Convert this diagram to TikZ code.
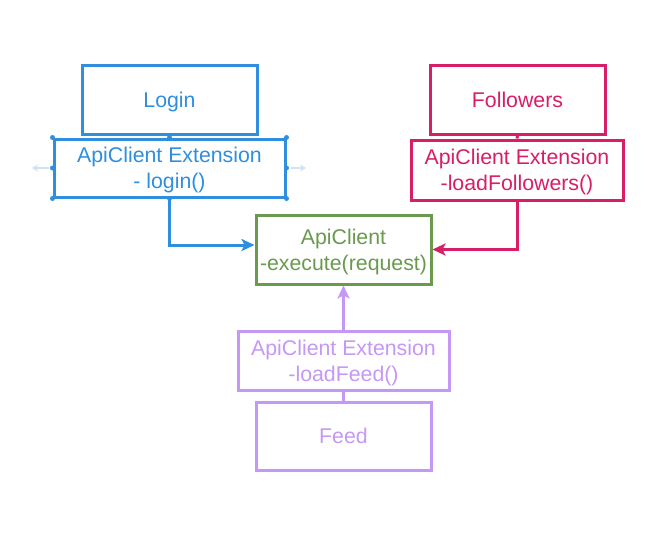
\documentclass[tikz,border=0pt]{standalone}
\usepackage{fontspec}
\setmainfont{Liberation Sans}
\usetikzlibrary{arrows.meta}
\definecolor{cblue}{RGB}{47,143,222}
\definecolor{cpink}{RGB}{216,30,102}
\definecolor{cgreen}{RGB}{106,154,78}
\definecolor{cpurple}{RGB}{198,152,245}
\definecolor{cfaint}{RGB}{205,228,248}
\begin{document}
\begin{tikzpicture}[x=1pt,y=-1pt,
  box/.style={draw, line width=3pt, inner sep=0pt, align=center, text depth=0pt,
    font=\fontsize{21.3}{26}\selectfont},
  conn/.style={line width=3pt},
  arr/.style={line width=3pt, -{Stealth[length=13pt,width=12pt,inset=3pt]}},
  handle/.style={fill=cblue, draw=none, circle, minimum size=5pt, inner sep=0pt}]
\useasboundingbox (0,0) rectangle (670,541);
\fill[white] (0,0) rectangle (670,541);

\node[box, draw=cblue, text=cblue, minimum width=175pt, minimum height=69pt] (login) at (169.5,99.5) {Login};
\node[box, draw=cblue, text=cblue, minimum width=231pt, minimum height=58pt] (lext) at (169.5,168) {ApiClient Extension\\- login()};

\node[box, draw=cpink, text=cpink, minimum width=175pt, minimum height=69pt] (fol) at (517.5,99.5) {Followers};
\node[box, draw=cpink, text=cpink, minimum width=212pt, minimum height=60pt] (fext) at (517,170) {ApiClient Extension\\-loadFollowers()};

\node[box, draw=cgreen, text=cgreen, minimum width=175pt, minimum height=69pt] (api) at (343.5,249.5) {ApiClient\\-execute(request)};

\node[box, draw=cpurple, text=cpurple, minimum width=211pt, minimum height=59pt] (pext) at (343.5,360.5) {ApiClient Extension\\-loadFeed()};
\node[box, draw=cpurple, text=cpurple, minimum width=175pt, minimum height=68pt] (feed) at (343.5,436) {Feed};

\draw[arr, cblue] (lext.south) |- ([yshift=4.5pt]api.west);
\draw[arr, cpink] (fext.south) |- (api.east);
\draw[conn, cpink] (fol.south) -- (fext.north);
\draw[arr, cpurple] (pext.north) -- (api.south);
\draw[conn, cpurple] (feed.north) -- (pext.south);

% selection handles
\foreach \a in {north west,north,north east,west,east,south west,south,south east}
  \node[handle] at (lext.\a) {};
\coordinate (la) at (32,168);
\coordinate (ra) at (306,168);
\draw[cfaint, line width=2pt, -{Stealth[length=6pt,width=7pt]}] ([xshift=-4pt]lext.west) -- (la);
\draw[cfaint, line width=2pt, -{Stealth[length=6pt,width=7pt]}] ([xshift=4pt]lext.east) -- (ra);
\end{tikzpicture}
\end{document}
